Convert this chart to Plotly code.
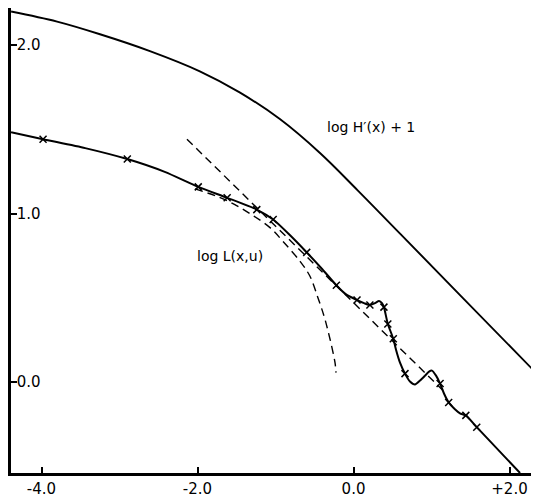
import plotly.graph_objects as go

# Upper curve: log H'(x) + 1
h_x = [-4.39, -3.80, -3.25, -2.61, -1.97, -1.46, -0.94, -0.43, 0.05, 0.60, 1.40, 2.37]
h_y = [2.20, 2.14, 2.065, 1.965, 1.845, 1.72, 1.56, 1.36, 1.14, 0.88, 0.50, 0.04]

# Lower curve: log L(x,u)
l_x = [-4.39, -3.98, -3.44, -2.90, -2.42, -1.99, -1.62, -1.24, -1.03, -0.81, -0.60,
       -0.40, -0.22, -0.10, 0.045, 0.135, 0.21, 0.276, 0.327, 0.365, 0.39, 0.44,
       0.51, 0.545, 0.596, 0.66, 0.724, 0.788, 0.853, 0.917, 0.968, 1.006, 1.058,
       1.11, 1.16, 1.22, 1.30, 1.365, 1.44, 1.58, 2.135]
l_y = [1.484, 1.442, 1.389, 1.324, 1.248, 1.159, 1.094, 1.024, 0.965, 0.870, 0.770,
       0.670, 0.575, 0.522, 0.487, 0.469, 0.457, 0.469, 0.481, 0.469, 0.445, 0.345,
       0.257, 0.192, 0.115, 0.050, 0.003, -0.015, 0.009, 0.038, 0.062, 0.068, 0.038,
       -0.009, -0.068, -0.121, -0.162, -0.186, -0.198, -0.268, -0.540]

# Computed points (x marks) on log L(x,u)
m_x = [-3.98, -2.90, -1.99, -1.62, -1.24, -1.03, -0.60, -0.22, 0.045, 0.21, 0.39,
       0.44, 0.51, 0.66, 1.11, 1.22, 1.44, 1.58]
m_y = [1.442, 1.324, 1.159, 1.094, 1.024, 0.965, 0.770, 0.575, 0.487, 0.457, 0.445,
       0.345, 0.257, 0.050, -0.009, -0.121, -0.198, -0.268]

# Straight dashed asymptote
a_x = [-2.135, 1.147]
a_y = [1.442, -0.050]

# Curved dashed approximation
c_x = [-2.032, -1.647, -1.327, -1.071, -0.904, -0.686, -0.558, -0.455, -0.378,
       -0.327, -0.276, -0.237, -0.224]
c_y = [1.147, 1.083, 1.000, 0.917, 0.835, 0.717, 0.628, 0.499, 0.392,
       0.304, 0.204, 0.115, 0.056]

x_ticks = [-4.0, -2.0, 0.0, 2.0]
x_tick_text = ["-4.0", "-2.0", "0.0", "+2.0"]
y_ticks = [0.0, 1.0, 2.0]
y_tick_text = ["0.0", "1.0", "2.0"]

FONT = "DejaVu Sans"

fig = go.Figure()
fig.add_trace(go.Scatter(x=h_x, y=h_y, mode="lines",
                         line=dict(color="black", width=1.9, shape="spline", smoothing=1.0),
                         showlegend=False, hoverinfo="skip"))
fig.add_trace(go.Scatter(x=a_x, y=a_y, mode="lines",
                         line=dict(color="black", width=1.4, dash="8px,5px"),
                         showlegend=False, hoverinfo="skip"))
fig.add_trace(go.Scatter(x=c_x, y=c_y, mode="lines",
                         line=dict(color="black", width=1.4, dash="8px,5px", shape="spline"),
                         showlegend=False, hoverinfo="skip"))
fig.add_trace(go.Scatter(x=l_x, y=l_y, mode="lines",
                         line=dict(color="black", width=2, shape="spline", smoothing=0.6),
                         showlegend=False, hoverinfo="skip"))
fig.add_trace(go.Scatter(x=m_x, y=m_y, mode="markers",
                         marker=dict(symbol="x-thin", size=7, color="black",
                                     line=dict(color="black", width=1.5)),
                         showlegend=False, hoverinfo="skip"))

fig.add_annotation(x=0.224, y=1.513, text="log H′(x) + 1", showarrow=False,
                   font=dict(family=FONT, size=14, color="black"))
fig.add_annotation(x=-1.583, y=0.746, text="log L(x,u)", showarrow=False,
                   font=dict(family=FONT, size=14, color="black"))

# The page body has an 8px default margin, so the figure is sized/offset to compensate.
fig.update_layout(
    width=531, height=490,
    margin=dict(l=3, r=0, t=0, b=22, pad=0),
    paper_bgcolor="white", plot_bgcolor="white",
    font=dict(family=FONT, size=15, color="black"),
    xaxis=dict(range=[-4.391, 2.378], showgrid=False, zeroline=False,
               showline=True, linecolor="black", linewidth=2.5,
               ticks="inside", ticklen=6, tickwidth=2, tickcolor="black",
               tickvals=x_ticks, ticktext=x_tick_text,
               tickfont=dict(family=FONT, size=15, color="black")),
    yaxis=dict(range=[-0.540, 2.221], showgrid=False, zeroline=False,
               showline=True, linecolor="black", linewidth=2.5,
               ticks="inside", ticklen=6, tickwidth=2, tickcolor="black",
               tickvals=y_ticks, ticktext=y_tick_text,
               ticklabelposition="inside",
               tickfont=dict(family=FONT, size=15, color="black")),
)

fig.write_html("out.html")
